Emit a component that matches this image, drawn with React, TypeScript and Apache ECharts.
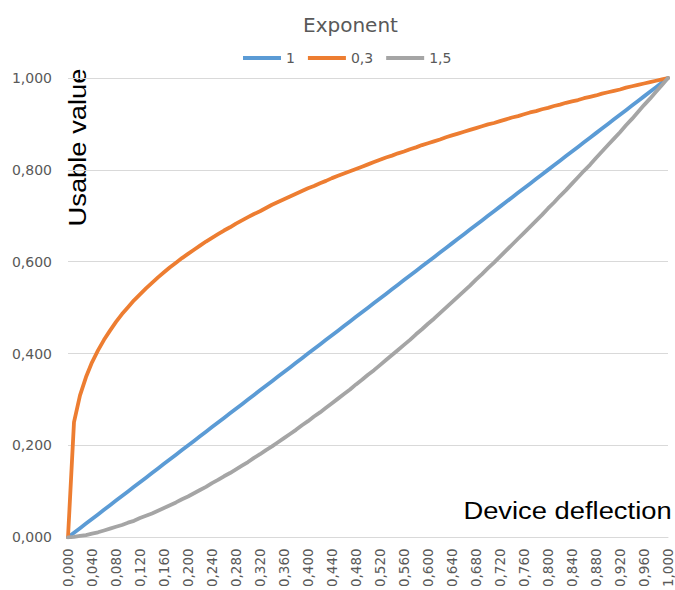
import React, { useEffect, useRef } from "react";
import * as echarts from "echarts";

const categories = [
  "0,000","0,010","0,020","0,030","0,040","0,050","0,060","0,070","0,080","0,090",
  "0,100","0,110","0,120","0,130","0,140","0,150","0,160","0,170","0,180","0,190",
  "0,200","0,210","0,220","0,230","0,240","0,250","0,260","0,270","0,280","0,290",
  "0,300","0,310","0,320","0,330","0,340","0,350","0,360","0,370","0,380","0,390",
  "0,400","0,410","0,420","0,430","0,440","0,450","0,460","0,470","0,480","0,490",
  "0,500","0,510","0,520","0,530","0,540","0,550","0,560","0,570","0,580","0,590",
  "0,600","0,610","0,620","0,630","0,640","0,650","0,660","0,670","0,680","0,690",
  "0,700","0,710","0,720","0,730","0,740","0,750","0,760","0,770","0,780","0,790",
  "0,800","0,810","0,820","0,830","0,840","0,850","0,860","0,870","0,880","0,890",
  "0,900","0,910","0,920","0,930","0,940","0,950","0,960","0,970","0,980","0,990",
  "1,000",
];

const seriesNames = ["1", "0,3", "1,5"];

const valuesExp1 = [
  0.00,0.01,0.02,0.03,0.04,0.05,0.06,0.07,0.08,0.09,
  0.10,0.11,0.12,0.13,0.14,0.15,0.16,0.17,0.18,0.19,
  0.20,0.21,0.22,0.23,0.24,0.25,0.26,0.27,0.28,0.29,
  0.30,0.31,0.32,0.33,0.34,0.35,0.36,0.37,0.38,0.39,
  0.40,0.41,0.42,0.43,0.44,0.45,0.46,0.47,0.48,0.49,
  0.50,0.51,0.52,0.53,0.54,0.55,0.56,0.57,0.58,0.59,
  0.60,0.61,0.62,0.63,0.64,0.65,0.66,0.67,0.68,0.69,
  0.70,0.71,0.72,0.73,0.74,0.75,0.76,0.77,0.78,0.79,
  0.80,0.81,0.82,0.83,0.84,0.85,0.86,0.87,0.88,0.89,
  0.90,0.91,0.92,0.93,0.94,0.95,0.96,0.97,0.98,0.99,
  1.00,
];

const valuesExp03 = [
  0.000,0.251,0.309,0.349,0.381,0.407,0.430,0.450,0.469,0.486,
  0.501,0.516,0.529,0.542,0.554,0.566,0.577,0.588,0.598,0.608,
  0.617,0.626,0.635,0.644,0.652,0.660,0.668,0.675,0.683,0.690,
  0.697,0.704,0.710,0.717,0.724,0.730,0.736,0.742,0.748,0.754,
  0.760,0.765,0.771,0.776,0.782,0.787,0.792,0.797,0.802,0.807,
  0.812,0.817,0.822,0.827,0.831,0.836,0.840,0.845,0.849,0.854,
  0.858,0.862,0.866,0.871,0.875,0.879,0.883,0.887,0.891,0.895,
  0.899,0.902,0.906,0.910,0.914,0.917,0.921,0.925,0.928,0.932,
  0.935,0.939,0.942,0.946,0.949,0.952,0.956,0.959,0.962,0.966,
  0.969,0.972,0.975,0.979,0.982,0.985,0.988,0.991,0.994,0.997,
  1.000,
];

const valuesExp15 = [
  0.000,0.001,0.003,0.005,0.008,0.011,0.015,0.019,0.023,0.027,
  0.032,0.036,0.042,0.047,0.052,0.058,0.064,0.070,0.076,0.083,
  0.089,0.096,0.103,0.110,0.118,0.125,0.133,0.140,0.148,0.156,
  0.164,0.173,0.181,0.190,0.198,0.207,0.216,0.225,0.234,0.244,
  0.253,0.263,0.272,0.282,0.292,0.302,0.312,0.322,0.333,0.343,
  0.354,0.364,0.375,0.386,0.397,0.408,0.419,0.430,0.442,0.453,
  0.465,0.476,0.488,0.500,0.512,0.524,0.536,0.548,0.561,0.573,
  0.586,0.598,0.611,0.624,0.637,0.650,0.663,0.676,0.689,0.702,
  0.716,0.729,0.743,0.756,0.770,0.784,0.798,0.811,0.826,0.840,
  0.854,0.868,0.882,0.897,0.911,0.926,0.941,0.955,0.970,0.985,
  1.000,
];

const colors = ["#5B9BD5", "#ED7D31", "#A5A5A5"];

export default function App() {
  const ref = useRef<HTMLDivElement>(null);

  useEffect(() => {
    if (!ref.current) return;
    document.body.style.margin = "0";
    const chart = echarts.init(ref.current, undefined, { renderer: "svg" });
    const seriesData = [valuesExp1, valuesExp03, valuesExp15];
    const fmt = (v: number) => v.toFixed(3).replace(".", ",");
    chart.setOption({
      animation: false,
      backgroundColor: "#ffffff",
      color: colors,
      title: {
        text: "Exponent",
        left: 298,
        top: 10,
        textStyle: {
          fontFamily: "DejaVu Sans",
          fontSize: 20,
          fontWeight: "normal",
          color: "#595959",
        },
      },
      legend: {
        left: 238,
        top: 46,
        icon: "rect",
        itemWidth: 38,
        itemHeight: 4,
        itemGap: 13,
        textStyle: {
          fontFamily: "DejaVu Sans",
          fontSize: 14,
          color: "#595959",
        },
        data: seriesNames,
      },
      grid: {
        left: 68,
        right: 7,
        top: 78,
        bottom: 52,
        containLabel: false,
      },
      xAxis: {
        type: "category",
        data: categories,
        boundaryGap: false,
        axisLine: { show: true, lineStyle: { color: "#D9D9D9", width: 1 } },
        axisTick: { show: false },
        splitLine: { show: false },
        axisLabel: {
          interval: 3,
          rotate: 90,
          margin: 11,
          fontFamily: "DejaVu Sans",
          fontSize: 13.5,
          color: "#595959",
        },
      },
      yAxis: {
        type: "value",
        min: 0,
        max: 1,
        interval: 0.2,
        axisLine: { show: false },
        axisTick: { show: false },
        splitLine: { show: true, lineStyle: { color: "#D9D9D9", width: 1 } },
        axisLabel: {
          margin: 16,
          fontFamily: "DejaVu Sans",
          fontSize: 14,
          color: "#595959",
          formatter: (v: number) => fmt(v),
        },
      },
      series: seriesNames.map((name, i) => ({
        name,
        type: "line",
        data: seriesData[i],
        symbol: "none",
        smooth: false,
        lineStyle: { width: 3.8, color: colors[i], cap: "round", join: "round" },
        itemStyle: { color: colors[i] },
      })),
      graphic: [
        {
          type: "text",
          x: 77.5,
          y: 147.5,
          rotation: Math.PI / 2,
          scaleX: 1.14,
          style: {
            text: "Usable value",
            fontFamily: "Liberation Sans",
            fontSize: 24,
            fill: "#000000",
            textAlign: "center",
            textVerticalAlign: "middle",
          },
        },
        {
          type: "text",
          x: 567.5,
          y: 511,
          scaleX: 1.14,
          style: {
            text: "Device deflection",
            fontFamily: "Liberation Sans",
            fontSize: 24,
            fill: "#000000",
            textAlign: "center",
            textVerticalAlign: "middle",
          },
        },
      ],
    });
    return () => chart.dispose();
  }, []);

  return <div ref={ref} style={{ width: 675, height: 590 }} />;
}
